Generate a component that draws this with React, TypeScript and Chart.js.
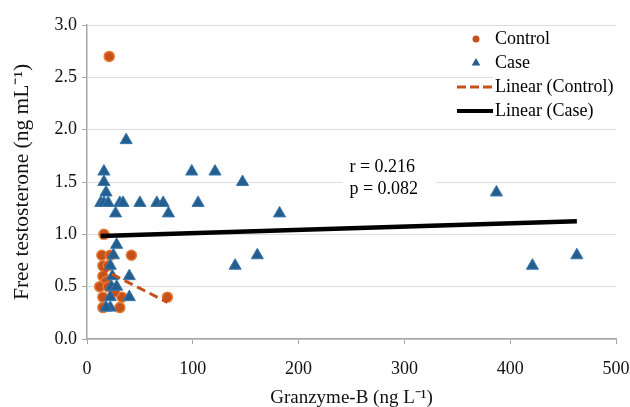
import React, { useEffect, useRef } from 'react';
import { Chart, registerables } from 'chart.js';

Chart.register(...registerables);

// ---- data ----
const controlX = [21, 16, 14, 42, 22, 15, 20, 15, 18, 12, 20, 15, 33, 26, 15, 31, 76];
const controlY = [2.7, 1.0, 0.8, 0.8, 0.8, 0.7, 0.7, 0.6, 0.55, 0.5, 0.5, 0.4, 0.4, 0.45, 0.3, 0.3, 0.4];

const caseX = [37, 16, 16, 18, 13, 16, 20, 31, 34, 27, 50, 66, 72, 77, 99, 105, 121, 147, 182, 140, 161, 387, 421, 463, 28, 25, 22, 40, 24, 23, 40, 22, 22, 18, 28];
const caseY = [1.9, 1.6, 1.5, 1.4, 1.3, 1.3, 1.3, 1.3, 1.3, 1.2, 1.3, 1.3, 1.3, 1.2, 1.6, 1.3, 1.6, 1.5, 1.2, 0.7, 0.8, 1.4, 0.7, 0.8, 0.9, 0.8, 0.7, 0.6, 0.6, 0.5, 0.4, 0.4, 0.3, 0.3, 0.5];

const controlTrendX = [12, 76];
const controlTrendY = [0.68, 0.35];
const caseTrendX = [13, 463];
const caseTrendY = [0.985, 1.125];

const xTickValues = [0, 100, 200, 300, 400, 500];
const yTickValues = [0, 0.5, 1.0, 1.5, 2.0, 2.5, 3.0];

const seriesNames = ['Control', 'Case', 'Linear (Control)', 'Linear (Case)'];
const statLines = ['r = 0.216', 'p = 0.082'];
const xTitle = 'Granzyme-B (ng L\u207B\u00B9)';
const yTitle = 'Free testosterone (ng mL\u207B\u00B9)';

const FONT = "'Liberation Serif', 'Times New Roman', serif";
const ORANGE = '#C5501A';
const ORANGE_RIM = '#E47A34';
const BLUE = '#245E8F';
const BLUE_RIM = '#3A78AE';
const AXIS = '#A6A6A6';
const GRID = '#DCDCDC';

const toPoints = (xs: number[], ys: number[]) => xs.map((x, i) => ({ x, y: ys[i] }));

export default function App() {
  const ref = useRef<HTMLCanvasElement>(null);

  useEffect(() => {
    if (!ref.current) return;
    Chart.defaults.font.family = FONT;

    const overlay = {
      id: 'overlay',
      afterDraw(chart: any) {
        const ctx = chart.ctx as CanvasRenderingContext2D;
        const area = chart.chartArea;
        const xs = chart.scales.x;
        const ys = chart.scales.y;
        ctx.save();
        ctx.font = `18px ${FONT}`;
        ctx.textBaseline = 'middle';
        ctx.textAlign = 'left';

        // statistics box
        const tx = xs.getPixelForValue(248);
        const ty1 = ys.getPixelForValue(1.64);
        const ty2 = ys.getPixelForValue(1.43);
        ctx.fillStyle = '#fff';
        ctx.fillRect(tx - 7, ty1 - 12, 94, ty2 - ty1 + 24);
        ctx.fillStyle = '#000';
        ctx.fillText(statLines[0], tx, ty1);
        ctx.fillText(statLines[1], tx, ty2);

        // legend
        const mx = area.right - 141;
        const textX = area.right - 121;
        const y0 = area.top + 14;
        const step = 24;
        ctx.fillStyle = '#fff';
        ctx.fillRect(textX - 2, area.top + 3, chart.width - textX + 2, 95);

        // circle
        ctx.beginPath();
        ctx.arc(mx + 1, y0, 3.5, 0, Math.PI * 2);
        ctx.fillStyle = ORANGE;
        ctx.fill();
        // triangle
        const r = 5;
        const ty = y0 + step;
        ctx.beginPath();
        ctx.moveTo(mx + 1, ty - r);
        ctx.lineTo(mx + 1 + r * 0.866, ty + r * 0.5);
        ctx.lineTo(mx + 1 - r * 0.866, ty + r * 0.5);
        ctx.closePath();
        ctx.fillStyle = BLUE;
        ctx.fill();
        // dashed line
        ctx.beginPath();
        ctx.setLineDash([9, 4]);
        ctx.lineWidth = 3;
        ctx.strokeStyle = ORANGE;
        ctx.moveTo(mx - 18, y0 + 2 * step);
        ctx.lineTo(mx + 18, y0 + 2 * step);
        ctx.stroke();
        // solid line
        ctx.beginPath();
        ctx.setLineDash([]);
        ctx.lineWidth = 4;
        ctx.strokeStyle = '#000';
        ctx.moveTo(mx - 18, y0 + 3 * step);
        ctx.lineTo(mx + 18, y0 + 3 * step);
        ctx.stroke();

        ctx.fillStyle = '#000';
        seriesNames.forEach((name, i) => {
          ctx.fillText(name, textX, y0 + i * step);
        });
        ctx.restore();
      },
    };

    const chart = new Chart(ref.current, {
      type: 'scatter',
      data: {
        datasets: [
          {
            label: seriesNames[2],
            type: 'line',
            data: toPoints(controlTrendX, controlTrendY),
            borderColor: ORANGE,
            borderWidth: 3,
            borderDash: [9, 5],
            pointRadius: 0,
            showLine: true,
            fill: false,
            order: 0,
          },
          {
            label: seriesNames[3],
            type: 'line',
            data: toPoints(caseTrendX, caseTrendY),
            borderColor: '#000',
            borderWidth: 4.5,
            pointRadius: 0,
            showLine: true,
            fill: false,
            order: 0,
          },
          {
            label: seriesNames[1],
            data: toPoints(caseX, caseY),
            pointStyle: 'triangle',
            pointRadius: 7,
            backgroundColor: BLUE,
            borderColor: BLUE_RIM,
            borderWidth: 1,
            order: 1,
          },
          {
            label: seriesNames[0],
            data: toPoints(controlX, controlY),
            pointStyle: 'circle',
            pointRadius: 5,
            backgroundColor: ORANGE,
            borderColor: ORANGE_RIM,
            borderWidth: 1.5,
            order: 2,
          },
        ],
      },
      options: {
        animation: false,
        responsive: true,
        maintainAspectRatio: false,
        layout: { padding: { left: 0, right: 14, top: 25, bottom: 0 } },
        plugins: {
          legend: { display: false },
          tooltip: { enabled: false },
        },
        scales: {
          x: {
            type: 'linear',
            min: 0,
            max: 500,
            afterBuildTicks: (scale: any) => {
              scale.ticks = xTickValues.map((v) => ({ value: v }));
            },
            ticks: {
              font: { family: FONT, size: 18 },
              color: '#111',
              padding: 14,
              maxRotation: 0,
            },
            grid: {
              drawOnChartArea: false,
              drawTicks: true,
              tickLength: 5,
              tickColor: AXIS,
            },
            border: { display: true, color: AXIS, width: 1.5 },
            title: {
              display: true,
              text: xTitle,
              font: { family: FONT, size: 19, lineHeight: 1 },
              color: '#111',
              padding: { top: 8, bottom: -1 },
            },
            afterFit: (scale: any) => {
              scale.height = 68;
              scale.paddingLeft = 0;
              scale.paddingRight = 0;
            },
          },
          y: {
            type: 'linear',
            min: 0,
            max: 3,
            afterBuildTicks: (scale: any) => {
              scale.ticks = yTickValues.map((v) => ({ value: v }));
            },
            ticks: {
              font: { family: FONT, size: 18 },
              color: '#111',
              padding: 5,
              callback: (v: any) => Number(v).toFixed(1),
            },
            grid: {
              color: GRID,
              lineWidth: 1,
              drawTicks: true,
              tickLength: 5,
              tickColor: AXIS,
            },
            border: { display: true, color: AXIS, width: 1.5 },
            title: {
              display: true,
              text: yTitle,
              font: { family: FONT, size: 21.5 },
              color: '#111',
              padding: { top: 9, bottom: 6 },
            },
            afterFit: (scale: any) => {
              scale.width = 87;
            },
          },
        },
      },
      plugins: [overlay],
    });

    return () => chart.destroy();
  }, []);

  return (
    <div style={{ position: 'absolute', left: 0, top: 0, width: 630, height: 407, background: '#fff' }}>
      <canvas ref={ref} />
    </div>
  );
}
